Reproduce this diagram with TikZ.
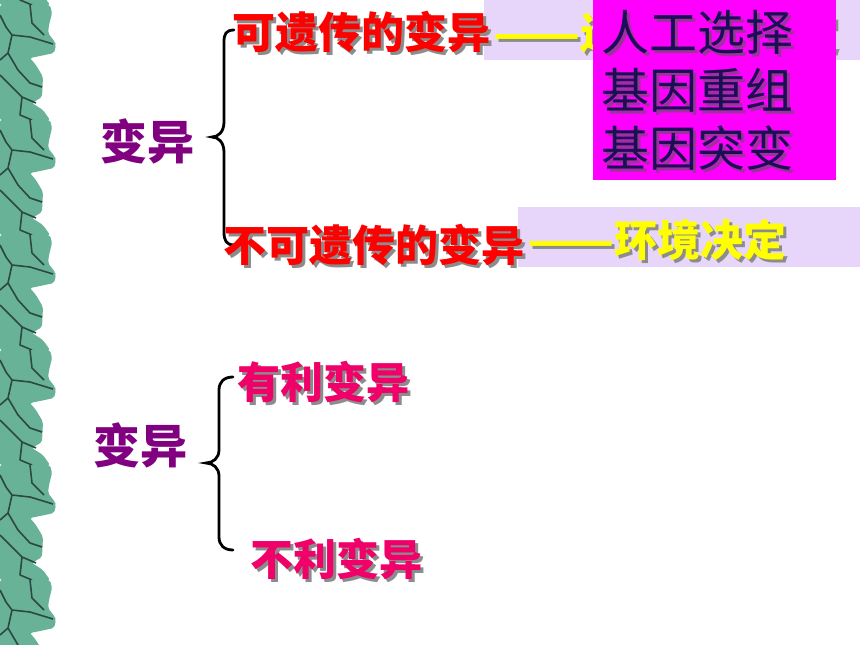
\documentclass[tikz,border=0pt]{standalone}
\usepackage{fontspec}
\newfontfamily\cjk{Noto Sans CJK SC}
\definecolor{barkgreen}{RGB}{104,178,152}
\definecolor{barkline}{RGB}{45,72,66}
\definecolor{lavender}{RGB}{232,214,250}
\definecolor{hotpink}{RGB}{240,0,104}
\definecolor{navytext}{RGB}{26,14,84}
\definecolor{purpletext}{RGB}{128,0,128}
\definecolor{boxmagenta}{RGB}{255,0,255}
\definecolor{notered}{RGB}{255,0,0}
\definecolor{noteyellow}{RGB}{255,255,0}
\newcommand\shd[2][black!45]{\makebox[0pt][l]{\kern3pt\raisebox{-3pt}[0pt][0pt]{\color{#1}#2}}#2}
\newcommand\longdash{\scalebox{1.18}[1]{——}}

\begin{document}
\begin{tikzpicture}[x=1pt, y=-1pt,
  word/.style={inner sep=0pt, anchor=west, font=\cjk\bfseries\fontsize{43}{50}\selectfont},
  title/.style={inner sep=0pt, anchor=west, text=purpletext, font=\cjk\bfseries\fontsize{47}{54}\selectfont},
  brace/.style={line width=2.8pt, line cap=round, black}]
  \fill[white] (0,0) rectangle (860,645);
  \useasboundingbox (0,0) rectangle (860,645);

  % bark strip on the left
  \foreach \t in {-70,45,...,620} {
    \fill[barkgreen, rounded corners=2pt] (0,\t-40) -- (50,\t-40) -- (52,\t-32) -- (49,\t-20)
      -- (48,\t-12) -- (55,\t-3) -- (56,\t) -- (54,\t+8) -- (40,\t+11) -- (30,\t+13)
      -- (36,\t+20) -- (43,\t+32) -- (42,\t+52) -- (32,\t+58) -- (43,\t+65)
      -- (50,\t+75) -- (0,\t+75) -- cycle;
    \draw[barkline, line width=1.6pt, line join=round]
      (0,\t-30) -- (6,\t-18) -- (12,\t-10) -- (30,\t-8) -- (53,\t-1)
      (30,\t-40) -- (32,\t-22) -- (44,\t-10)
      (12,\t-10) -- (8,\t+8) -- (0,\t+15)
      (8,\t+8) -- (18,\t+25) -- (30,\t+38) -- (42,\t+42)
      (0,\t+30) -- (10,\t+40) -- (22,\t+52) -- (36,\t+58)
      (22,\t+52) -- (20,\t+70) -- (32,\t+75);
  }

  % first split
  \node[title] (var1) at (100,141) {变异};
  \draw[brace] (234,30) .. controls (226,30) and (224,34) .. (224,42) -- (224,122)
    .. controls (224,132) and (218,137) .. (212,137)
    .. controls (218,137) and (224,142) .. (224,152) -- (224,232)
    .. controls (224,240) and (226,245) .. (234,245);

  \fill[lavender] (484,0) rectangle (860,60);
  \node[word, noteyellow] (heritnote) at (493,33) {\shd{\longdash 遗传物质决定}};
  \node[word, notered] (herit) at (232,32) {\shd{可遗传的变异}};

  \fill[boxmagenta] (593,0) rectangle (836,180);
  \node[inner sep=0pt, anchor=west, align=left, text=navytext,
    font=\cjk\fontsize{48}{58}\selectfont] (causes) at (601,90)
    {\shd[purpletext!80]{人工选择}\\ \shd[purpletext!80]{基因重组}\\ \shd[purpletext!80]{基因突变}};

  \fill[lavender] (518,207) rectangle (860,267);
  \node[word, notered] (nonherit) at (223,245) {\shd{不可遗传的变异}};
  \node[word, noteyellow] (nonheritnote) at (527,240) {\shd{\longdash 环境决定}};

  % second split
  \node[title] (var2) at (93,445) {变异};
  \draw[brace] (233,377) .. controls (224,377) and (219,382) .. (219,390) -- (219,450)
    .. controls (219,458) and (213,463) .. (206,463)
    .. controls (213,463) and (219,468) .. (219,476) -- (219,537)
    .. controls (219,545) and (224,550) .. (233,550);
  \node[word, hotpink] (useful) at (237,382) {\shd{有利变异}};
  \node[word, hotpink] (harmful) at (250,559) {\shd{不利变异}};
\end{tikzpicture}
\end{document}
